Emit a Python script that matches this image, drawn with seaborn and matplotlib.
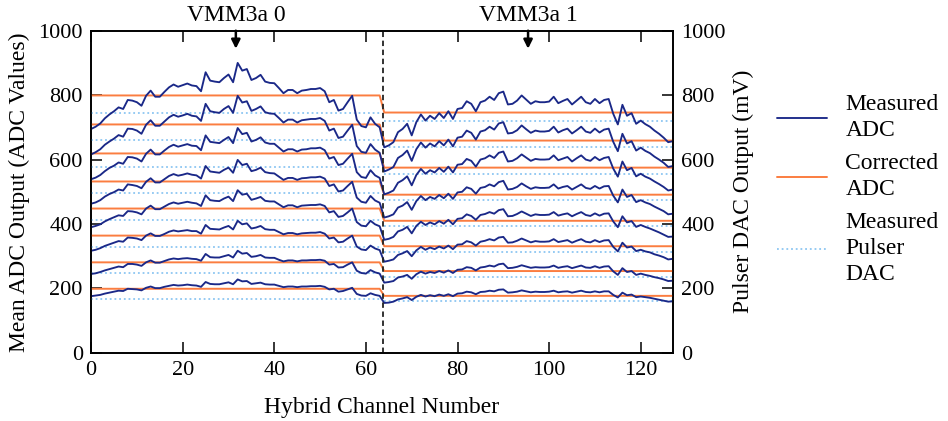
import numpy as np
import pandas as pd
import matplotlib
matplotlib.use("Agg")
import matplotlib.pyplot as plt
from matplotlib.lines import Line2D
import seaborn as sns

# ---------------- data ----------------
channels = list(range(128))

# measured ADC, one list per pulser step (bottom -> top), channels 0..127
measured_adc_0 = [176,178,180,184,187,190,193,192,199,198,197,194,202,206,201,201,205,208,211,209,
                  210,212,210,209,205,220,214,213,213,216,219,213,228,222,223,214,216,218,213,212,
                  212,208,204,206,206,204,206,206,207,207,208,205,197,199,190,192,197,202,183,178,
                  177,185,180,177,
                  155,156,159,166,169,173,164,174,180,175,179,176,181,177,182,176,184,185,190,188,
                  182,189,190,193,191,196,197,187,188,190,194,191,188,190,189,189,190,193,188,190,
                  191,187,190,193,189,188,191,188,191,191,180,172,187,179,181,173,175,173,171,168,
                  165,162,159,160]
measured_adc_1 = [245,247,251,256,260,264,268,266,276,276,274,270,281,287,280,280,285,290,293,291,
                  293,294,292,291,286,307,297,296,296,300,304,296,317,308,310,298,300,304,296,295,
                  295,289,284,287,287,284,287,287,288,288,289,286,274,276,265,266,274,281,255,248,
                  246,257,250,246,
                  218,220,223,234,237,242,230,244,252,246,251,248,254,249,256,248,258,259,266,264,
                  256,265,267,271,268,275,277,263,264,267,272,268,264,266,265,265,266,271,264,267,
                  269,263,267,271,265,264,269,264,268,269,253,242,263,251,254,242,246,242,239,235,
                  232,228,223,224]
measured_adc_2 = [317,320,325,332,337,342,347,345,358,357,355,350,364,371,363,363,369,376,380,377,
                  379,381,378,378,370,397,385,384,383,389,394,383,410,399,402,386,389,394,384,382,
                  382,375,368,372,372,368,371,372,373,373,375,370,355,358,343,345,355,364,330,321,
                  319,333,324,319,
                  283,286,290,304,309,316,300,318,329,320,327,322,330,324,333,322,336,337,347,343,
                  333,345,348,353,349,358,360,342,343,348,355,349,343,347,345,345,346,353,344,347,
                  350,342,348,353,345,343,350,344,349,350,329,315,342,327,330,316,320,315,312,306,
                  302,297,290,292]
measured_adc_3 = [390,394,399,408,415,421,427,425,440,439,436,430,448,457,446,446,454,462,467,463,
                  466,469,466,464,456,489,474,472,471,479,485,471,505,491,494,475,479,484,472,470,
                  470,461,452,458,458,452,457,458,459,459,461,456,436,440,422,425,436,448,406,395,
                  393,410,399,393,
                  351,354,360,377,382,391,371,394,407,397,405,399,409,401,413,399,416,418,430,425,
                  413,428,431,437,432,443,446,424,425,431,439,432,425,430,428,428,429,437,426,430,
                  433,424,431,437,428,425,433,426,432,433,408,390,424,405,409,391,397,391,386,380,
                  374,367,360,361]
measured_adc_4 = [463,467,474,485,493,499,507,504,523,521,518,511,531,542,529,529,539,549,555,550,
                  553,557,553,551,541,580,563,561,559,568,575,559,599,583,587,564,568,575,561,558,
                  557,547,537,543,543,537,542,543,545,545,547,541,518,523,501,504,518,531,482,469,
                  466,487,473,466,
                  420,424,430,451,457,468,444,471,487,474,484,478,490,480,494,478,498,500,514,509,
                  494,512,515,523,517,530,534,507,509,515,526,517,509,514,512,512,513,523,510,515,
                  518,507,515,523,512,509,518,510,517,518,488,467,507,484,490,468,474,467,462,454,
                  447,440,430,432]
measured_adc_5 = [539,544,552,564,574,581,591,587,608,607,603,594,618,631,616,616,628,639,646,640,
                  644,648,643,642,629,675,655,653,651,661,670,651,698,679,683,656,661,669,653,649,
                  649,637,625,632,632,625,631,632,635,635,637,629,603,608,583,587,603,618,561,546,
                  543,567,551,543,
                  492,497,504,528,536,548,520,552,571,556,567,560,574,562,578,560,584,586,602,596,
                  578,600,604,613,605,621,625,594,596,604,616,606,596,602,600,600,601,613,598,603,
                  608,594,604,613,600,596,608,598,605,608,572,547,594,567,574,548,556,547,541,532,
                  524,515,504,507]
measured_adc_6 = [616,623,632,646,656,665,676,671,696,695,690,680,708,722,705,705,718,731,739,733,
                  737,742,736,734,720,773,750,747,745,757,766,745,798,777,781,751,757,765,747,743,
                  742,729,715,724,724,715,722,724,726,726,729,720,690,696,667,671,690,708,642,624,
                  621,648,631,621,
                  563,569,577,605,614,628,596,632,653,637,650,641,657,644,662,641,668,671,690,683,
                  662,687,691,702,693,712,716,681,683,691,706,694,683,690,687,687,689,702,684,691,
                  696,681,691,702,687,683,696,684,693,696,655,626,680,650,657,628,637,627,620,609,
                  600,590,577,580]
measured_adc_7 = [695,702,712,728,740,750,762,757,785,783,778,767,798,814,795,795,810,824,833,826,
                  831,836,830,828,812,871,845,842,840,853,864,840,900,876,881,847,853,863,842,838,
                  837,822,806,816,816,806,814,816,819,819,822,812,778,785,752,757,778,798,724,704,
                  700,731,711,700,
                  638,644,654,685,695,711,675,716,740,721,736,726,744,729,750,726,757,760,781,773,
                  750,778,783,795,785,806,811,771,773,783,799,786,773,781,778,778,780,795,775,782,
                  788,771,783,795,778,773,788,775,785,788,742,709,770,736,744,711,721,710,702,690,
                  680,668,654,657]
measured_adc = [measured_adc_0, measured_adc_1, measured_adc_2, measured_adc_3,
                measured_adc_4, measured_adc_5, measured_adc_6, measured_adc_7]

# corrected ADC levels per pulser step (VMM3a 0 half / VMM3a 1 half)
corrected_vmm0 = [199, 281, 364, 448, 532, 619, 709, 799]
corrected_vmm1 = [177, 254, 331, 410, 491, 575, 659, 746]

# measured pulser DAC (mV) per step for each VMM
pulser_vmm0 = [168, 249, 330, 412, 496, 578, 662, 746]
pulser_vmm1 = [160, 234, 312, 394, 473, 556, 638, 721]

vmm_channels0 = channels[:64]
vmm_channels1 = channels[64:]
vmm_boundary = 63.8
vmm_labels = ["VMM3a 0", "VMM3a 1"]
vmm_arrow_x = [31.6, 95.4]

x_ticks = [0, 20, 40, 60, 80, 100, 120]
y_ticks = [0, 200, 400, 600, 800, 1000]

legend_labels = ["Measured\nADC", "Corrected\nADC", "Measured\nPulser\nDAC"]

# ---------------- style ----------------
C_MEAS = "#1a2888"
C_CORR = "#fb7d40"
C_DAC = "#8cc6f2"

sns.set_theme(style="ticks")
plt.rcParams["font.family"] = ["Liberation Serif", "DejaVu Serif"]
plt.rcParams.update({
    "axes.edgecolor": "black",
    "axes.linewidth": 1.2,
    "xtick.color": "black",
    "ytick.color": "black",
    "text.color": "black",
    "axes.labelcolor": "black",
})

fig = plt.figure(figsize=(9.48, 4.21), dpi=100)
ax = fig.add_axes([0.0961, 0.1618, 0.6136, 0.7653])
ax2 = ax.twinx()

# pulser DAC dotted lines (right axis, same scale)
for lvl0, lvl1 in zip(pulser_vmm0, pulser_vmm1):
    sns.lineplot(x=vmm_channels0, y=[lvl0] * len(vmm_channels0), ax=ax2, color=C_DAC,
                 lw=1.3, linestyle=(0, (1, 1.6)), legend=False)
    sns.lineplot(x=vmm_channels1, y=[lvl1] * len(vmm_channels1), ax=ax2, color=C_DAC,
                 lw=1.3, linestyle=(0, (1, 1.6)), legend=False)

# corrected ADC
for lvl0, lvl1 in zip(corrected_vmm0, corrected_vmm1):
    corr = [lvl0] * len(vmm_channels0) + [lvl1] * len(vmm_channels1)
    sns.lineplot(x=channels, y=corr, ax=ax2, color=C_CORR, lw=1.4, legend=False)

# measured ADC
for series in measured_adc:
    sns.lineplot(x=channels, y=series, ax=ax2, color=C_MEAS, lw=1.35, legend=False)

ax2.axvline(vmm_boundary, color="#222222", lw=1.3, linestyle=(0, (3, 2)))

for lim_ax in (ax, ax2):
    lim_ax.set_xlim(0, 127)
    lim_ax.set_ylim(0, 1000)
    lim_ax.set_yticks(y_ticks)
ax.set_xticks(x_ticks)

ax.tick_params(axis="both", direction="in", length=8, width=1.1, labelsize=16, pad=6,
               top=True, right=False)
ax2.tick_params(axis="y", direction="in", length=8, width=1.1, labelsize=16, pad=6)
ax2.tick_params(axis="x", top=True, direction="in", length=8, width=1.1)

ax.set_xlabel("Hybrid Channel Number", fontsize=17, labelpad=12)
ax.set_ylabel("Mean ADC Output (ADC Values)", fontsize=17, labelpad=6)
ax2.set_ylabel("Pulser DAC Output (mV)", fontsize=17, labelpad=5)
ax2.grid(False)
ax.grid(False)

# VMM labels and arrows
for xa, lab in zip(vmm_arrow_x, vmm_labels):
    ax2.annotate("", xy=(xa, 944), xytext=(xa, 1000),
                 arrowprops=dict(arrowstyle="-|>", color="black", lw=1.8,
                                 mutation_scale=13, shrinkA=0, shrinkB=0))
    ax2.annotate(lab, xy=(xa, 1000), xytext=(0, 7), textcoords="offset points",
                 ha="center", va="baseline", fontsize=17, annotation_clip=False)

handles = [Line2D([0], [0], color=C_MEAS, lw=1.35),
           Line2D([0], [0], color=C_CORR, lw=1.4),
           Line2D([0], [0], color=C_DAC, lw=1.3, linestyle=(0, (1, 1.6)))]
leg = fig.legend(handles, legend_labels, loc="center left", bbox_to_anchor=(0.8196, 0.549),
                 frameon=False, fontsize=17, handlelength=2.1, handletextpad=0.8,
                 labelspacing=0.5, borderpad=0, borderaxespad=0)
for t in leg.get_texts():
    t.set_linespacing(1.32)

fig.savefig("out.png", dpi=100)
